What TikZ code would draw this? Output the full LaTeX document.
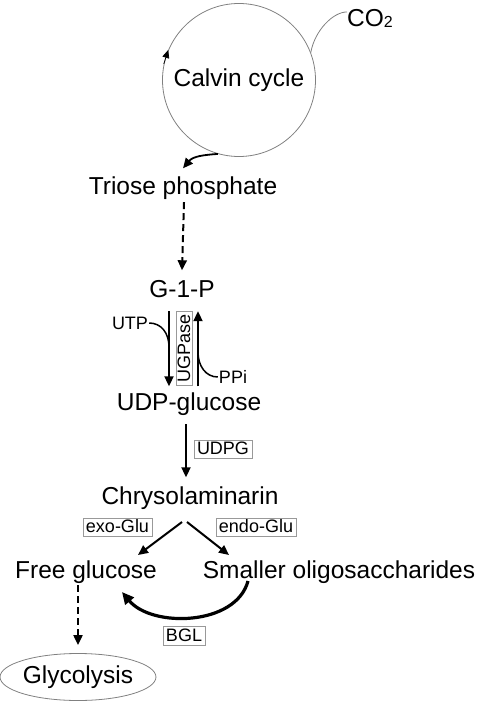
\documentclass[tikz,border=0pt]{standalone}
\usepackage{fontspec}
\setmainfont{Liberation Sans}
\usetikzlibrary{arrows.meta,calc,shapes.geometric}
\begin{document}
\begin{tikzpicture}[x=1pt,y=-1pt,
  mainfs/.style={font=\fontsize{24.5}{28}\selectfont},
  metab/.style={mainfs,anchor=base,text height=17.5pt,text depth=5pt,inner xsep=2pt,inner ysep=9pt},
  enz/.style={draw=gray!80,line width=0.7pt,font=\fontsize{18}{20}\selectfont,inner xsep=3pt,inner ysep=1.5pt,text height=13pt,text depth=2.5pt},
  small/.style={font=\fontsize{18}{20}\selectfont,inner sep=1pt},
  arr/.style={line width=2pt,-{Triangle[length=10pt,width=9pt]}},
  darr/.style={arr,dash pattern=on 7pt off 4pt},
  thinc/.style={line width=1.5pt},
  gline/.style={draw=gray,line width=0.8pt}]
\useasboundingbox (0,0) rectangle (484,708);
% Calvin cycle
\node[circle,gline,minimum size=153pt,inner sep=0pt,mainfs,text height=17.5pt,text depth=5pt] (circ) at (239,80) {Calvin cycle};
\draw[line width=0.7pt,-{Triangle[length=8pt,width=7pt]}] (circ.168) -- (circ.157);
\node[mainfs,anchor=base west,inner sep=0pt] (co2) at (347,27) {CO\raisebox{-1pt}{\fontsize{16}{18}\selectfont 2}};
\draw[gline] (circ.21) .. controls +(4,-22) and +(-14,0) .. ([yshift=7pt]co2.west);
% metabolites
\node[metab] (tri) at (183,195) {Triose phosphate};
\node[metab] (g1p) at (182,297) {G-1-P};
\node[metab] (udp) at (189,410) {UDP-glucose};
\node[metab] (chrys) at (190,504) {Chrysolaminarin};
\node[metab] (fg) at (86,578) {Free glucose};
\node[metab] (so) at (339,578) {Smaller oligosaccharides};
\node[ellipse,gline,mainfs,minimum width=145pt,minimum height=47pt,inner sep=0pt] (glyc) at (78,677) {Glycolysis};
% arrows
\draw[line width=1.8pt,-{Triangle[length=10pt,width=9pt]}] (circ.254) .. controls +(-14,1) and +(10,-12) .. (tri.north);
\draw[darr] ([xshift=1pt,yshift=7pt]tri.south) -- (g1p.north);
% UGPase
\draw[arr] ([xshift=-13pt]g1p.south) -- ([xshift=-13pt,yshift=-3pt]g1p.south |- udp.north);
\draw[arr] ([xshift=16pt,yshift=-3pt]g1p.south |- udp.north) -- ([xshift=16pt]g1p.south);
\node[enz,rotate=90,text height=12.5pt,text depth=0.5pt,inner xsep=3pt] (ugp) at (184,348) {UGPase};
\node[small] (utp) at (130,323) {UTP};
\node[small] (ppi) at (233,377) {PPi};
\draw[thinc] (utp.east) .. controls +(12,0) and +(0,-14) .. ($(g1p.base)+(-13,50)$);
\draw[thinc] (ppi.west) .. controls +(-12,0) and +(0,14) .. ($(g1p.base)+(16,55)$);
% UDPG
\draw[arr] ([xshift=-3pt]udp.south) -- ([xshift=-3pt]udp.south |- chrys.north);
\node[enz] (udpg) at (223,449.5) {UDPG};
% chrysolaminarin split
\draw[arr] ($(chrys.base)+(-8,18)$) -- ($(fg.base)+(52,-23)$);
\draw[arr] ($(chrys.base)+(-3,18)$) -- ($(so.base)+(-110,-23)$);
\node[enz] (exo) at (117.5,527.5) {exo-Glu};
\node[enz] (endo) at (256,527.5) {endo-Glu};
% BGL
\draw[line width=3.2pt,-{Triangle[length=12pt,width=11pt]}] ($(so.base)+(-91,3)$) .. controls (236,626) and (152,628) .. ($(fg.base)+(36,14)$);
\node[enz] (bgl) at (184,636) {BGL};
% glycolysis
\draw[darr,shorten >=8pt] ($(fg.base)+(-8,7)$) -- (glyc.north);
\end{tikzpicture}
\end{document}
